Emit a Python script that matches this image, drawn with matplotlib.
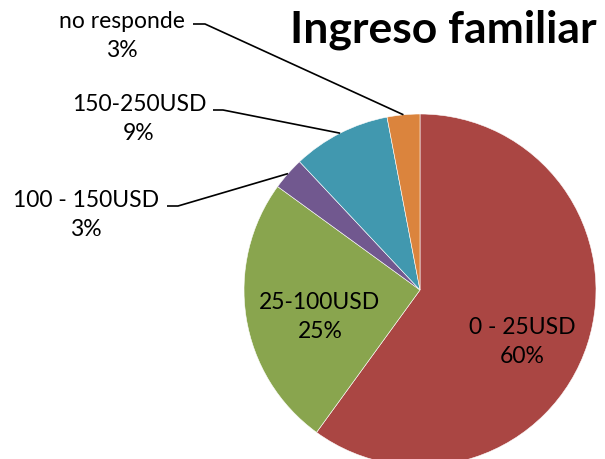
import numpy as np
import matplotlib.pyplot as plt

plt.rcParams['font.family'] = ['Lato', 'DejaVu Sans']

labels = ['0 - 25USD', '25-100USD', '100 - 150USD', '150-250USD', 'no responde']
values = [60, 25, 3, 9, 3]
colors = ['#AA4643', '#89A54E', '#71588F', '#4198AF', '#DB843D']
title = 'Ingreso familiar'

W, H = 605, 459
fig = plt.figure(figsize=(W / 100, H / 100), dpi=100)
ax = fig.add_axes([0, 0, 1, 1])

cx, cy, r = 420, H - 290, 176
wedges, _ = ax.pie(values, colors=colors, startangle=90, counterclock=False,
                   center=(cx, cy), radius=r,
                   wedgeprops=dict(edgecolor='white', linewidth=0.4))
ax.set_xlim(0, W)
ax.set_ylim(0, H)
ax.set_aspect('equal')
ax.axis('off')

# inside labels (image-pixel positions of text centres)
inside = {0: (522, 342), 1: (320, 317)}
for i, (x, y) in inside.items():
    ax.text(x, H - y, f'{labels[i]}\n{values[i]}%', ha='center', va='center',
            fontsize=16.5, linespacing=1.5)

# outside labels with leader lines: text centre, elbow start, elbow end
outside = {
    4: ((122, 36), (193, 24), (205, 24)),
    3: ((139, 119), (213, 110), (223, 110)),
    2: ((86, 215), (167, 206), (178, 206)),
}
for i, ((tx, ty), (x0, y0), (x1, y1)) in outside.items():
    w = wedges[i]
    ang = np.deg2rad((w.theta1 + w.theta2) / 2)
    ex, ey = cx + r * np.cos(ang), cy + r * np.sin(ang)
    ax.plot([x0, x1, ex], [H - y0, H - y1, ey], color='black', lw=1.2,
            solid_capstyle='butt')
    ax.text(tx, H - ty, f'{labels[i]}\n{values[i]}%', ha='center', va='center',
            fontsize=16.5, linespacing=1.5)

ax.text(443, H - 30, title, ha='center', va='center', fontsize=32,
        fontweight='bold')

fig.savefig('out.png', dpi=100)
